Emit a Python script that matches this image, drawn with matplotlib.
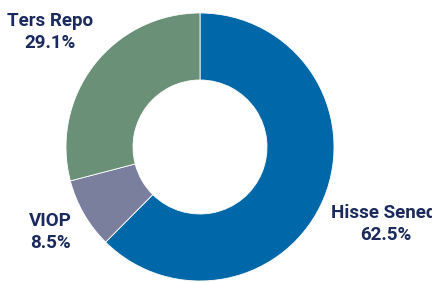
import matplotlib
matplotlib.use("Agg")
import matplotlib.pyplot as plt

categories = ["Hisse Senedi", "VIOP", "Ters Repo"]
values = [62.5, 8.5, 29.1]
labels = ["Hisse Senedi\n62.5%", "VIOP\n8.5%", "Ters Repo\n29.1%"]
colors = ["#0068A8", "#7A7F9E", "#6A9177"]
label_pos = [(386, 282 - 224), (50, 282 - 232), (50, 282 - 32)]

fig = plt.figure(figsize=(4.32, 2.82), dpi=100)
ax = fig.add_axes([0, 0, 1, 1])
ax.set_xlim(0, 432)
ax.set_ylim(0, 282)
ax.set_aspect("equal")
ax.axis("off")

ax.pie(values, colors=colors, startangle=90, counterclock=False,
       center=(200, 135), radius=134,
       wedgeprops=dict(width=67, edgecolor="white", linewidth=0.6))
ax.set_xlim(0, 432)
ax.set_ylim(0, 282)

for lab, (x, y) in zip(labels, label_pos):
    ax.text(x, y, lab, ha="center", va="center", fontsize=13.5,
            fontweight="bold", family="Roboto", color="#1B2A5C",
            linespacing=1.35, clip_on=False)

fig.savefig("out.png", dpi=100)
